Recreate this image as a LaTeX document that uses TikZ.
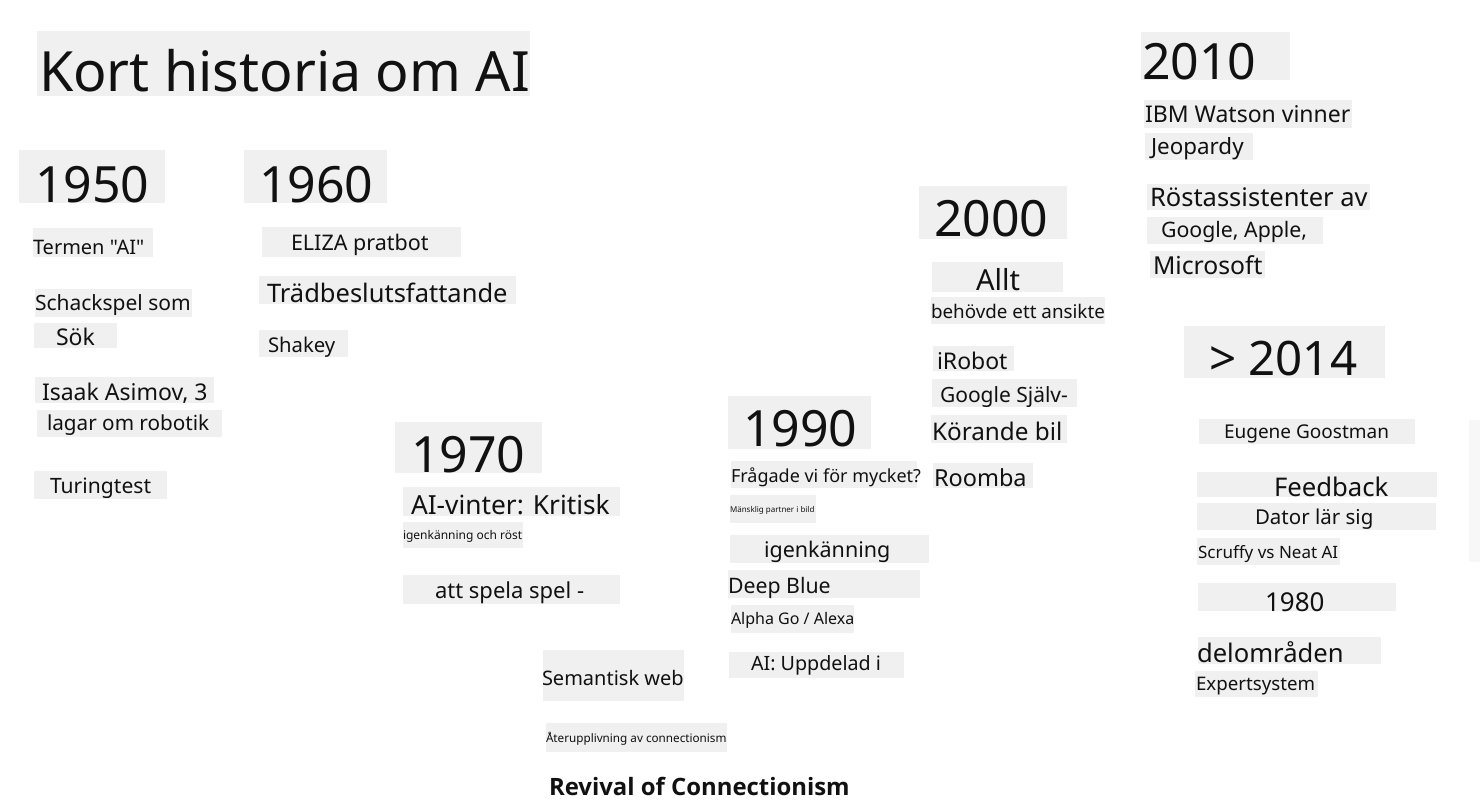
\documentclass[tikz,border=0pt]{standalone}
\usepackage{fontspec}
\setmainfont{Noto Sans}[Ligatures=TeXOff]
\newfontfamily\boldfam{Open Sans}
\definecolor{bgc}{HTML}{F0F0F0}
\definecolor{inkc}{HTML}{111111}
\tikzset{
  txt/.style={anchor=base west, inner sep=0pt, outer sep=0pt, text=inkc},
  bgbox/.style={fill=bgc, draw=none}
}
% #1 x1, #2 y1, #3 x2, #4 y2 (box), #5 text x, #6 baseline y, #7 size, #8 text, #9 name
\newcommand\tbx[9]{%
  \fill[bgbox] (#1,#2) rectangle (#3,#4);
  \node[txt, font=\fontsize{#7}{#7}\selectfont] (#9) at (#5,#6) {#8};}
\begin{document}
\begin{tikzpicture}[x=1pt,y=-1pt]
\useasboundingbox (0,0) rectangle (1480,808);
\fill[white] (0,0) rectangle (1480,808);
% title
\tbx{37}{31}{530}{96}{39}{91}{55.5}{Kort historia om AI}{title}
% 1950
\tbx{19}{150}{165}{203}{35}{202}{50}{1950}{y1950}
\tbx{33}{228}{153}{257}{33}{254}{20}{Termen "AI"}{termen}
\tbx{35}{289}{192}{317}{35}{310}{21}{Schackspel som}{schack}
\tbx{34}{323}{117}{348}{56}{345}{23}{Sök}{sok}
\tbx{35}{377}{214}{403}{42}{400}{23}{Isaak Asimov, 3}{asimov}
\tbx{37}{410}{222}{437}{47}{430}{20.7}{lagar om robotik}{lagar}
\tbx{34}{471}{167}{499}{50}{493}{21.1}{Turingtest}{turing}
% 1960
\tbx{244}{150}{387}{203}{259}{202}{50}{1960}{y1960}
\tbx{262}{227}{461}{257}{291}{250}{21.5}{ELIZA pratbot}{eliza}
\tbx{259}{276}{516}{304}{267}{302}{25.5}{Trädbeslutsfattande}{trad}
\tbx{259}{330}{348}{357}{268}{352}{20.3}{Shakey}{shakey}
% 1970
\tbx{395}{422}{542}{473}{411}{472}{50}{1970}{y1970}
\tbx{403}{487}{620}{516}{411}{514}{26.3}{AI-vinter: Kritisk}{vinter}
\tbx{403}{522}{523}{548}{403}{539}{12}{igenkänning och röst}{igenrost}
\tbx{403}{575}{620}{604}{435}{598}{22}{att spela spel -}{spela}
\tbx{543}{650}{684}{701}{542}{685}{20}{Semantisk web}{semweb}
\tbx{546}{723}{727}{752}{546}{742}{11.7}{Återupplivning av connectionism}{ater}
\node[txt, font=\boldfam\fontsize{23.9}{24}\selectfont\bfseries] (revival) at (549,795) {Revival of Connectionism};
% 1990
\tbx{728}{396}{871}{449}{743}{446}{50}{1990}{y1990}
\tbx{731}{461}{917}{488}{731}{482}{18}{Frågade vi för mycket?}{fragade}
\tbx{730}{495}{816}{523}{730}{512}{8}{Mänsklig partner i bild}{mansklig}
\tbx{730}{535}{929}{563}{764}{557}{21.5}{igenkänning}{igen}
\tbx{728}{570}{920}{598}{728}{593}{21.3}{Deep Blue}{deepblue}
\tbx{731}{605}{854}{633}{731}{624}{16}{Alpha Go / Alexa}{alphago}
\tbx{729}{652}{904}{678}{751}{670}{19.7}{AI: Uppdelad i}{uppdelad}
% 2000
\tbx{919}{186}{1067}{239}{934}{236}{50}{2000}{y2000}
\tbx{932}{262}{1063}{292}{976}{290}{29}{Allt}{allt}
\tbx{931}{297}{1105}{324}{931}{318}{18.8}{behövde ett ansikte}{behovde}
\tbx{933}{346}{1014}{371}{937}{369}{23}{iRobot}{irobot}
\tbx{932}{379}{1077}{407}{940}{402}{21}{Google Själv-}{google}
\tbx{931}{415}{1067}{443}{932}{440}{24.3}{Körande bil}{korande}
\tbx{933}{463}{1033}{488}{934}{486}{23.5}{Roomba}{roomba}
% 2010
\tbx{1141}{32}{1290}{80}{1142}{79}{50}{2010}{y2010}
\tbx{1144}{100}{1352}{128}{1145}{122}{23}{IBM Watson vinner}{ibm}
\tbx{1145}{133}{1253}{160}{1151}{154}{22.4}{Jeopardy}{jeopardy}
\tbx{1147}{184}{1370}{210}{1150}{206}{25.5}{Röstassistenter av}{rost}
\tbx{1147}{217}{1323}{244}{1161}{237}{21.3}{Google, Apple,}{gapple}
\tbx{1150}{251}{1265}{278}{1153}{274}{24.7}{Microsoft}{microsoft}
% > 2014
\tbx{1184}{326}{1385}{378}{1209}{375}{47.5}{> 2014}{y2014}
\tbx{1199}{419}{1415}{444}{1224}{438}{19}{Eugene Goostman}{eugene}
\tbx{1197}{472}{1437}{497}{1274}{496}{25.7}{Feedback}{feedback}
\tbx{1197}{503}{1436}{530}{1255}{524}{20.5}{Dator lär sig}{dator}
\tbx{1197}{538}{1340}{565}{1198}{558}{17}{Scruffy vs Neat AI}{scruffy}
\tbx{1198}{583}{1396}{611}{1265}{611}{26}{1980}{y1980}
\tbx{1198}{637}{1381}{664}{1197}{662}{25.6}{delområden}{delomraden}
\tbx{1195}{671}{1318}{697}{1196}{690}{18.7}{Expertsystem}{expert}
% faint strip at right edge
\fill[black!3] (1469,420) rectangle (1480,562);
\end{tikzpicture}
\end{document}
